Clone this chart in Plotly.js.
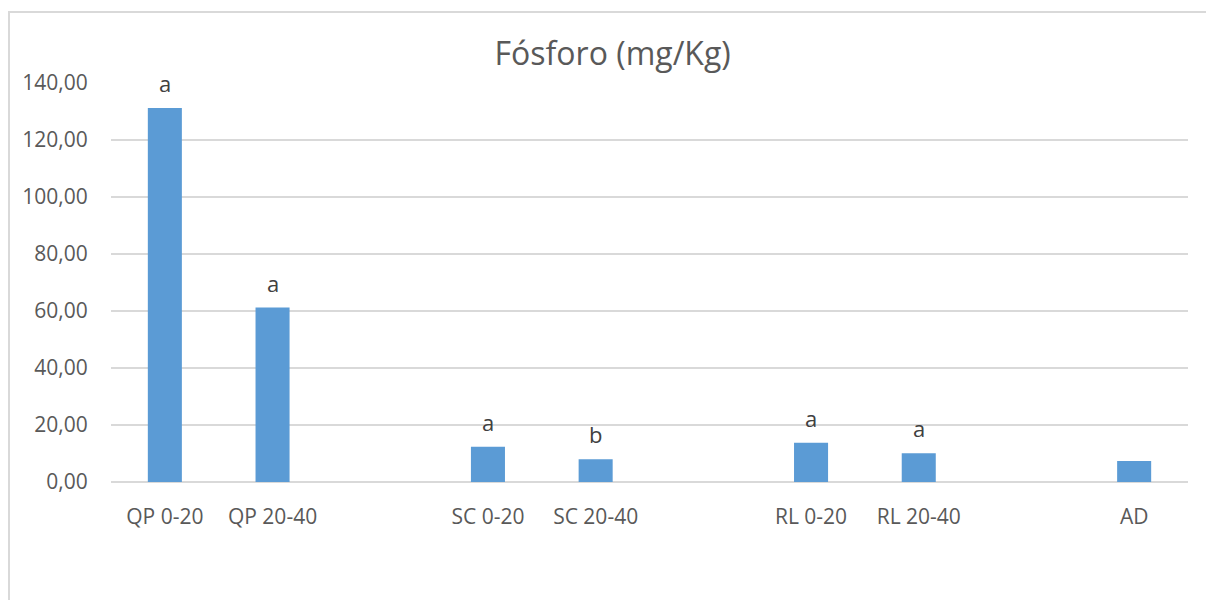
<!DOCTYPE html>
<html>
<head>
<meta charset="utf-8">
<script src="https://cdn.plot.ly/plotly-3.0.1.min.js"></script>
<style>
  html, body { margin: 0; padding: 0; background: #ffffff; overflow: hidden; }
  #wrap { position: relative; width: 1206px; height: 600px; overflow: hidden; }
  #chart { position: absolute; left: 0; top: 0; width: 1206px; height: 600px; }
  #frame {
    position: absolute; left: 8px; top: 11px; width: 1198px; height: 589px;
    border-top: 2px solid #d9d9d9; border-left: 2px solid #d9d9d9;
    box-sizing: border-box; pointer-events: none;
  }
</style>
</head>
<body>
<div id="wrap">
  <div id="chart"></div>
  <div id="frame"></div>
</div>
<script>
// Phosphorus content by site and soil depth
const categories = ['QP 0-20', 'QP 20-40', 'SC 0-20', 'SC 20-40', 'RL 0-20', 'RL 20-40', 'AD'];
const values = [131.2, 61.2, 12.4, 8.0, 13.8, 10.1, 7.4];
const letters = ['a', 'a', 'a', 'b', 'a', 'a', ''];

// Axis order, with empty slots separating the site groups
const axisOrder = ['QP 0-20', 'QP 20-40', 'gap1', 'SC 0-20', 'SC 20-40', 'gap2',
                   'RL 0-20', 'RL 20-40', 'gap3', 'AD'];
const yTicks = [0, 20, 40, 60, 80, 100, 120, 140];

const textColor = '#595959';
const gridColor = '#d9d9d9';
const fontFamily = '"Open Sans", "Noto Sans", sans-serif';

const trace = {
  type: 'bar',
  x: categories,
  y: values,
  marker: { color: '#5b9bd5' },
  hoverinfo: 'x+y',
  showlegend: false
};

// Significance letters above each bar
const annotations = categories
  .map((c, i) => ({ c, v: values[i], t: letters[i] }))
  .filter(d => d.t)
  .map(d => ({
    x: d.c, y: d.v, xref: 'x', yref: 'y',
    text: d.t, showarrow: false,
    yanchor: 'middle', yshift: 25,
    font: { family: fontFamily, size: 22, color: '#404040' }
  }));

const layout = {
  width: 1206,
  height: 600,
  margin: { l: 111, r: 18, t: 83, b: 118 },
  paper_bgcolor: 'rgba(0,0,0,0)',
  plot_bgcolor: 'rgba(0,0,0,0)',
  separators: ',.',
  bargap: 0.684,
  font: { family: fontFamily, color: textColor, size: 21 },
  title: {
    text: 'Fósforo (mg/Kg)',
    font: { family: fontFamily, size: 32, color: textColor },
    x: 0.508, xref: 'container', xanchor: 'center',
    y: 0.91, yref: 'container', yanchor: 'middle'
  },
  xaxis: {
    type: 'category',
    categoryorder: 'array',
    categoryarray: axisOrder,
    tickmode: 'array',
    tickvals: categories,
    ticktext: categories,
    showgrid: false,
    showline: false,
    zeroline: false,
    ticks: 'outside',
    ticklen: 16,
    tickcolor: 'rgba(0,0,0,0)',
    tickfont: { family: fontFamily, size: 21, color: textColor },
    fixedrange: true
  },
  yaxis: {
    range: [0, 140],
    tickmode: 'array',
    tickvals: yTicks,
    tickformat: '.2f',
    showgrid: true,
    gridcolor: gridColor,
    gridwidth: 1.5,
    zeroline: true,
    zerolinecolor: gridColor,
    zerolinewidth: 2,
    showline: false,
    ticks: 'outside',
    ticklen: 18,
    tickcolor: 'rgba(0,0,0,0)',
    tickfont: { family: fontFamily, size: 21, color: textColor },
    fixedrange: true
  },
  annotations: annotations
};

Plotly.newPlot('chart', [trace], layout, { displayModeBar: false, staticPlot: true });
</script>
</body>
</html>
